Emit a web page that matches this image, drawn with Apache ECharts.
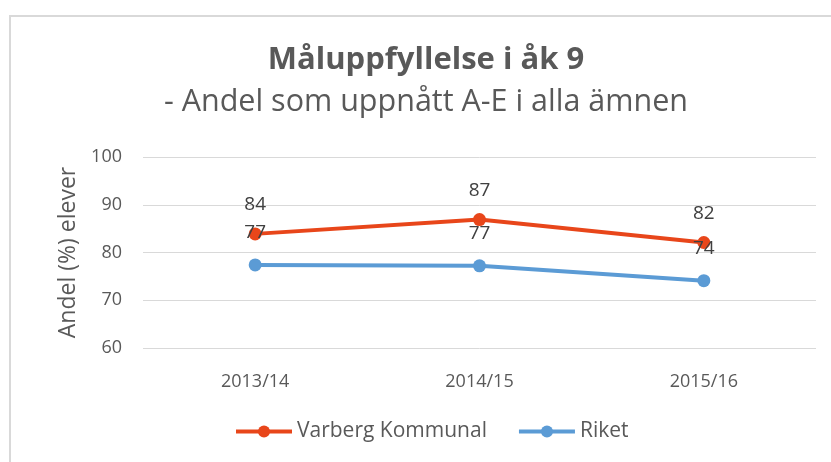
<!DOCTYPE html>
<html><head><meta charset="utf-8">
<script src="https://cdn.jsdelivr.net/npm/echarts@6/dist/echarts.min.js"></script>
<style>html,body{margin:0;padding:0;background:#fff}#c{width:831px;height:462px}</style>
</head><body><div id="c"></div>
<script>
const categories = ['2013/14', '2014/15', '2015/16'];
const varberg = [83.9, 86.9, 82.1];
const riket = [77.4, 77.2, 74.1];
const yTicks = { min: 60, max: 100, interval: 10 };

const FONT = 'Open Sans';
const chart = echarts.init(document.getElementById('c'));
const lbl = {
  show: true, position: 'top', distance: 13,
  fontFamily: FONT, fontSize: 19, color: '#404040',
  formatter: p => Math.round(p.value)
};
chart.setOption({
  animation: false,
  backgroundColor: '#fff',
  graphic: [{
    type: 'rect', shape: { x: 10, y: 16, width: 840, height: 470 },
    style: { fill: 'none', stroke: '#d9d9d9', lineWidth: 2 }, silent: true
  }],
  title: {
    text: 'Måluppfyllelse i åk 9',
    subtext: '- Andel som uppnått A-E i alla ämnen',
    left: 426, textAlign: 'center', top: 45, itemGap: 11, padding: 0,
    textStyle: { fontFamily: FONT, fontSize: 31, fontWeight: 'bold', color: '#595959' },
    subtextStyle: { fontFamily: FONT, fontSize: 30.5, color: '#595959' }
  },
  grid: { left: 143, right: 15, top: 157, bottom: 114 },
  legend: {
    bottom: 15, left: 229, itemWidth: 56, itemHeight: 15, itemGap: 30,
    textStyle: { fontFamily: FONT, fontSize: 21, color: '#595959' },
    lineStyle: { width: 4 },
    data: ['Varberg Kommunal', 'Riket']
  },
  xAxis: {
    type: 'category', data: categories, boundaryGap: true,
    axisLine: { show: false }, axisTick: { show: false },
    axisLabel: { fontFamily: FONT, fontSize: 18, color: '#595959', margin: 25 }
  },
  yAxis: {
    type: 'value', min: yTicks.min, max: yTicks.max, interval: yTicks.interval,
    name: 'Andel (%) elever', nameLocation: 'middle', nameGap: 63, nameRotate: 90,
    nameTextStyle: { fontFamily: FONT, fontSize: 23, color: '#595959' },
    axisLine: { show: false }, axisTick: { show: false },
    axisLabel: { fontFamily: FONT, fontSize: 18, color: '#595959', margin: 21 },
    splitLine: { lineStyle: { color: '#d9d9d9', width: 1 } }
  },
  series: [
    { name: 'Varberg Kommunal', type: 'line', data: varberg, symbol: 'circle', symbolSize: 13,
      itemStyle: { color: '#e8461a' }, lineStyle: { color: '#e8461a', width: 4 }, label: lbl },
    { name: 'Riket', type: 'line', data: riket, symbol: 'circle', symbolSize: 13,
      itemStyle: { color: '#5b9bd5' }, lineStyle: { color: '#5b9bd5', width: 4 },
      label: Object.assign({}, lbl, { distance: 16 }) }
  ]
});
</script></body></html>
